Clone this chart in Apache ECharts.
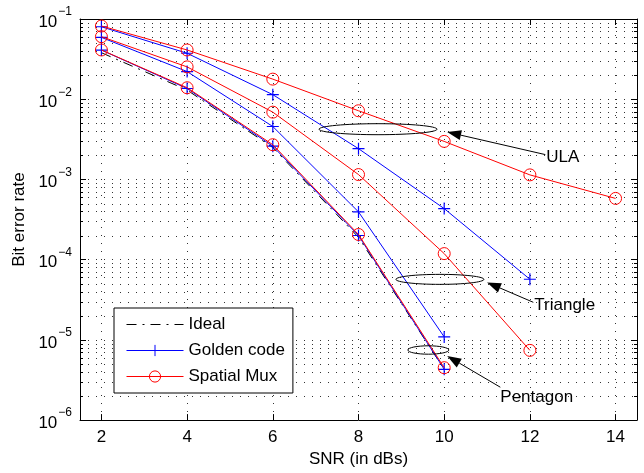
<!DOCTYPE html>
<html>
<head>
<meta charset="utf-8">
<script src="https://cdn.jsdelivr.net/npm/echarts@6/dist/echarts.min.js"></script>
<style>
    html, body {margin: 0; padding: 0; background: #fff;}
    #chart {width: 644px; height: 473px;}
</style>
</head>
<body>
<div id="chart"></div>
<script>
const snr = [2, 4, 6, 8, 10, 12, 14];
const xTicks = [2, 4, 6, 8, 10, 12, 14];

// BER
const ideal = [0.038, 0.013, 0.0025, 0.00019, 4.3e-6];
const ulaGolden = [0.08, 0.0374, 0.0114, 0.00242, 0.000433, 5.7e-5];
const ulaMux = [0.0818, 0.0411, 0.0178, 0.00718, 0.00298, 0.00114, 0.00058];
const triGolden = [0.059, 0.0221, 0.00457, 0.000394, 1.09e-5];
const triMux = [0.0602, 0.0253, 0.0069, 0.00115, 0.000119, 7.4e-6];
const pentGolden = [0.041, 0.0136, 0.0026, 0.0002, 4.3e-6];
const pentMux = [0.0411, 0.0139, 0.00271, 0.000206, 4.5e-6];

// annotations: ellipse centre (data), radii (px), arrow head/tail (data), label
const notes = [
    {text: 'ULA', centre: [8.456, 0.00423], rx: 59, ry: 5.5, head: [10.07, 0.0039], tail: [12.36, 0.00204]},
    {text: 'Triangle', centre: [9.9, 5.68e-5], rx: 44, ry: 5, head: [11.0, 5.2e-5], tail: [12.08, 2.94e-5]},
    {text: 'Pentagon', centre: [9.63, 7.48e-6], rx: 20.5, ry: 4.2, head: [10.07, 6.3e-6], tail: [11.31, 2.57e-6]},
];

const FONT = '"Liberation Sans", Arial, sans-serif';
const FS = 17;
const BLUE = '#0000ff';
const RED = '#ff0000';
const PLUS = 'path://M0,-10L0,10M-10,0L10,0';

const minorVals = [];
for (let k = -6; k <= -2; k++) {
    for (let m = 2; m <= 9; m++) minorVals.push([2, m * Math.pow(10, k)]);
}

const pairs = ys => ys.map((y, i) => [snr[i], y]);

const golden = (ys) => ({
    name: 'Golden code',
    type: 'line',
    data: pairs(ys),
    symbol: PLUS,
    symbolSize: 12,
    lineStyle: {color: BLUE, width: 1},
    itemStyle: {color: 'none', borderColor: BLUE, borderWidth: 1.2},
    z: 4,
});
const mux = (ys) => ({
    name: 'Spatial Mux',
    type: 'line',
    data: pairs(ys),
    symbol: 'circle',
    symbolSize: 12,
    lineStyle: {color: RED, width: 1},
    itemStyle: {color: 'rgba(255,255,255,0)', borderColor: RED, borderWidth: 1},
    z: 5,
});

const supLabel = v => {
    const e = Math.round(Math.log10(v));
    return '{b|10}{s|' + (e < 0 ? '\u2212' : '') + Math.abs(e) + '}';
};

const dotted = {show: true, lineStyle: {color: '#333', type: [1, 7], width: 1}};

const chart = echarts.init(document.getElementById('chart'));
chart.setOption({
    animation: false,
    textStyle: {fontFamily: FONT},
    grid: {left: 80, top: 19, right: 7, bottom: 52},
    xAxis: [{
        type: 'value',
        min: 1.5,
        max: 14.5,
        name: 'SNR (in dBs)',
        nameLocation: 'middle',
        nameGap: 28,
        nameTextStyle: {fontSize: FS, color: '#000', fontFamily: FONT},
        axisLine: {lineStyle: {color: '#000'}},
        axisTick: {inside: true, length: 6, customValues: xTicks, lineStyle: {color: '#000'}},
        axisLabel: {customValues: xTicks, fontSize: FS, color: '#000', margin: 9, fontFamily: FONT},
        splitLine: dotted,
    }, {
        type: 'value',
        position: 'top',
        min: 1.5,
        max: 14.5,
        axisLine: {lineStyle: {color: '#000'}},
        axisTick: {inside: true, length: 6, customValues: xTicks, lineStyle: {color: '#000'}},
        axisLabel: {show: false},
        splitLine: {show: false},
    }],
    yAxis: [{
        type: 'log',
        logBase: 10,
        min: 1e-6,
        max: 1e-1,
        name: 'Bit error rate',
        nameLocation: 'middle',
        nameGap: 51,
        nameTextStyle: {fontSize: FS, color: '#000', fontFamily: FONT},
        axisLine: {lineStyle: {color: '#000'}},
        axisTick: {inside: true, length: 6, lineStyle: {color: '#000'}},
        axisLabel: {
            formatter: supLabel,
            margin: 8,
            color: '#000',
            rich: {
                b: {fontSize: FS, fontFamily: FONT, color: '#000', padding: [6, 0, 0, 0]},
                s: {fontSize: 12, fontFamily: FONT, color: '#000', padding: [0, 0, 14, 1]},
            },
        },
        splitLine: dotted,
    }, {
        type: 'log',
        logBase: 10,
        position: 'right',
        min: 1e-6,
        max: 1e-1,
        axisLine: {lineStyle: {color: '#000'}},
        axisTick: {inside: true, length: 6, lineStyle: {color: '#000'}},
        axisLabel: {show: false},
        splitLine: {show: false},
    }],
    legend: {
        data: ['Ideal', 'Golden code', 'Spatial Mux'],
        orient: 'vertical',
        left: 114,
        top: 308,
        padding: [8, 8, 8, 12],
        itemWidth: 57,
        itemHeight: 14,
        itemGap: 9,
        backgroundColor: '#fff',
        borderColor: '#000',
        borderWidth: 1,
        borderRadius: 0,
        lineStyle: {width: 1},
        itemStyle: {borderWidth: 1},
        textStyle: {fontSize: FS, color: '#000', fontFamily: FONT},
        selectedMode: false,
    },
    series: [{
        name: 'grid-minor',
        type: 'custom',
        data: minorVals,
        silent: true,
        z: 1,
        renderItem: (params, api) => {
            const cs = params.coordSys;
            const y = Math.round(api.coord([2, api.value(1)])[1]) + 0.5;
            const r = cs.x + cs.width;
            return {type: 'group', children: [
                {type: 'line', shape: {x1: cs.x, y1: y, x2: r, y2: y}, style: {stroke: '#333', lineWidth: 1, lineDash: [1, 7]}},
                {type: 'line', shape: {x1: cs.x, y1: y, x2: cs.x + 3, y2: y}, style: {stroke: '#000', lineWidth: 1}},
                {type: 'line', shape: {x1: r - 3, y1: y, x2: r, y2: y}, style: {stroke: '#000', lineWidth: 1}},
            ]};
        },
    }, {
        name: 'Ideal',
        type: 'line',
        data: pairs(ideal),
        symbol: 'none',
        lineStyle: {color: '#000', width: 1, type: [10, 6, 2, 6]},
        itemStyle: {color: 'rgba(0,0,0,0)'},
        z: 3,
    },
    golden(ulaGolden), mux(ulaMux),
    golden(triGolden), mux(triMux),
    golden(pentGolden), mux(pentMux)],
});

// ellipses and arrows, placed through the axes
const px = p => chart.convertToPixel({xAxisIndex: 0, yAxisIndex: 0}, p);
const graphics = [];
notes.forEach(n => {
    const c = px(n.centre);
    const h = px(n.head);
    const t = px(n.tail);
    graphics.push({type: 'ellipse', shape: {cx: c[0], cy: c[1], rx: n.rx, ry: n.ry},
        style: {fill: 'none', stroke: '#000', lineWidth: 1}, z: 10});
    const ang = Math.atan2(h[1] - t[1], h[0] - t[0]);
    const len = 14, wid = 5;
    const bx = h[0] - len * Math.cos(ang), by = h[1] - len * Math.sin(ang);
    const nx = -Math.sin(ang) * wid, ny = Math.cos(ang) * wid;
    graphics.push({type: 'line', shape: {x1: t[0], y1: t[1], x2: bx, y2: by},
        style: {stroke: '#000', lineWidth: 1}, z: 10});
    graphics.push({type: 'polygon', shape: {points: [h, [bx + nx, by + ny], [bx - nx, by - ny]]},
        style: {fill: '#000'}, z: 10});
    const below = n.text === 'Pentagon';
    graphics.push({type: 'text', x: below ? t[0] : t[0] + 1, y: below ? t[1] + 2 : t[1] + 3,
        style: {text: n.text, font: FS + 'px ' + FONT, fill: '#000',
            textAlign: 'left', textVerticalAlign: below ? 'top' : 'middle'}, z: 10});
});
chart.setOption({graphic: graphics});
</script>
</body>
</html>
